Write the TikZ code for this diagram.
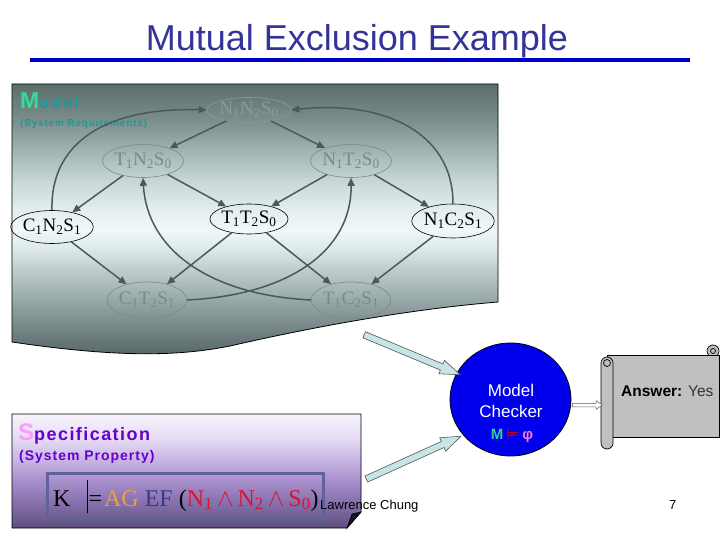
\documentclass[tikz,border=0pt]{standalone}
\usepackage{fontspec}
\setmainfont{Liberation Serif}
\setsansfont{Liberation Sans}
\newfontfamily\arial{Liberation Sans}
\newfontfamily\dejavu{DejaVu Sans}
\usetikzlibrary{shapes.geometric,shapes.arrows,arrows.meta,calc}
\definecolor{titleblue}{HTML}{333399}
\definecolor{lineblue}{HTML}{0000CC}
\definecolor{edgecol}{HTML}{4A5A5A}
\definecolor{fadecol}{HTML}{7A8A8A}
\definecolor{fadecolb}{HTML}{8A9A9A}
\definecolor{mgreen}{HTML}{33DD99}
\definecolor{mteal}{HTML}{1A9A9A}
\definecolor{spurple}{HTML}{6600CC}
\definecolor{spink}{HTML}{FF99FF}
\definecolor{gA}{HTML}{5C6E6C}
\definecolor{gB}{HTML}{7A8E8C}
\definecolor{gC}{HTML}{A0B2B2}
\definecolor{gD}{HTML}{C6D6D6}
\definecolor{gE}{HTML}{E4EEEE}
\definecolor{gF}{HTML}{F0F8F8}
\definecolor{gG}{HTML}{DCE8E8}
\definecolor{gH}{HTML}{BECCCC}
\definecolor{gI}{HTML}{98A8A8}
\definecolor{gJ}{HTML}{748484}
\definecolor{gK}{HTML}{546464}
\pgfdeclareverticalshading{panshade}{100bp}{color(0bp)=(gK); color(25bp)=(gK);
  color(30.1bp)=(gJ); color(35.6bp)=(gI); color(41.1bp)=(gH); color(44.7bp)=(gG);
  color(48.4bp)=(gF); color(52bp)=(gE); color(57.5bp)=(gD); color(63bp)=(gC);
  color(68.4bp)=(gB); color(75bp)=(gA); color(100bp)=(gA)}
\definecolor{sA}{HTML}{F8F4FC}
\definecolor{sB}{HTML}{E4DAF4}
\definecolor{sC}{HTML}{C8B4E4}
\definecolor{sD}{HTML}{A890CC}
\definecolor{sE}{HTML}{8A74B0}
\definecolor{sF}{HTML}{6A5A8C}
\definecolor{sG}{HTML}{5C4C7C}
\pgfdeclareverticalshading{specshade}{100bp}{color(0bp)=(sG); color(25bp)=(sG);
  color(28.5bp)=(sF); color(37.3bp)=(sE); color(46.1bp)=(sD); color(54.8bp)=(sC);
  color(63.6bp)=(sB); color(75bp)=(sA); color(100bp)=(sA)}
\definecolor{fboxcol}{HTML}{62629A}
\definecolor{agcol}{HTML}{E8A040}
\definecolor{efcol}{HTML}{3A3A8A}
\definecolor{ncol}{HTML}{DD1133}
\definecolor{checkblue}{HTML}{0000EE}
\definecolor{arrfill}{HTML}{C8E4E4}
\definecolor{scrollgray}{HTML}{C0C0C0}
\definecolor{phicol}{HTML}{FF77DD}
\definecolor{mcgreen}{HTML}{2AD2A0}
\newcommand\ssb[1]{\textsubscript{#1}}
\tikzset{
  state/.style={ellipse, draw=black, line width=0.6pt, inner sep=0pt,
    minimum width=78pt, minimum height=33pt,
    font=\fontsize{19}{19}\selectfont, text=black},
  faded/.style={draw=fadecol, text=fadecol},
  fadedb/.style={draw=fadecolb, text=fadecolb},
  edge/.style={draw=edgecol, line width=1.5pt, -{Triangle[length=8pt,width=7pt]}},
  blockarr/.style={single arrow, draw=edgecol, fill=arrfill, line width=0.6pt,
    inner xsep=0pt, inner ysep=3pt, minimum width=0pt,
    single arrow head extend=4pt, single arrow tip angle=40, sloped},
  smallarr/.style={single arrow, draw=black!65, fill=white, line width=0.5pt,
    inner xsep=0pt, inner ysep=1.5pt, minimum width=0pt,
    single arrow head extend=2.5pt, single arrow tip angle=70, sloped},
}
\begin{document}
\begin{tikzpicture}[x=1pt,y=-1pt]
\useasboundingbox (0,0) rectangle (720,540);

% title
\node[anchor=base, inner sep=0, text=titleblue, font=\arial\fontsize{36}{36}\selectfont] (title) at (357,51) {Mutual Exclusion Example};
\draw[lineblue, line width=4pt] (30,60) -- (690,60);

% model panel
\shadedraw[shading=panshade, line width=0.8pt]
  (12,84) -- (498,84) -- (498,302)
  .. controls (400,310) and (300,330) .. (230,346)
  .. controls (180,356) and (120,358) .. (12,342) -- cycle;

\node[anchor=base west, inner sep=0] (mlabel) at (20,109)
  {\arial\bfseries{\fontsize{23}{23}\selectfont\color{mgreen}M}{\fontsize{16}{16}\selectfont\addfontfeature{LetterSpace=15}\color{mteal}odel}};
\node[anchor=base west, inner sep=0] (mreq) at (20,127)
  {\arial\bfseries\fontsize{10}{10}\selectfont\addfontfeature{LetterSpace=8}\color{mteal}(System Requirements)};

% states
\node[state, fadedb, minimum height=25pt, minimum width=77pt] (n1n2) at (249,110) {N\ssb1N\ssb2S\ssb0};
\node[state, faded, minimum width=70pt] (t1n2) at (143,161) {T\ssb1N\ssb2S\ssb0};
\node[state, faded] (n1t2) at (351,161) {N\ssb1T\ssb2S\ssb0};
\node[state] (c1n2) at (52,227) {C\ssb1N\ssb2S\ssb1};
\node[state, minimum height=30pt] (t1t2) at (249,219) {T\ssb1T\ssb2S\ssb0};
\node[state, minimum height=34pt] (n1c2) at (453,221) {N\ssb1C\ssb2S\ssb1};
\node[state, faded, minimum height=36pt] (c1t2) at (147,300) {C\ssb1T\ssb2S\ssb1};
\node[state, faded, minimum height=36pt] (t1c2) at (351,300) {T\ssb1C\ssb2S\ssb1};

% straight edges
\draw[edge] (n1n2) -- (t1n2);
\draw[edge] (n1n2) -- (n1t2);
\draw[edge] (t1n2) -- (c1n2);
\draw[edge] (t1n2) -- (t1t2);
\draw[edge] (n1t2) -- (t1t2);
\draw[edge] (n1t2) -- (n1c2);
\draw[edge] (c1n2) -- (c1t2);
\draw[edge] (t1t2) -- (c1t2);
\draw[edge] (t1t2) -- (t1c2);
\draw[edge] (n1c2) -- (t1c2);
% curved edges
\draw[edge] (c1n2.north) .. controls (50,140) and (110,107) .. (n1n2.west);
\draw[edge] (n1c2.north) .. controls (453,130) and (380,100) .. (n1n2.east);
\draw[edge] (c1t2.east) .. controls (290,295) and (352,250) .. (n1t2.south);
\draw[edge] (t1c2.west) .. controls (210,295) and (147,250) .. (t1n2.south);

% specification box
\shadedraw[shading=specshade, line width=0.8pt]
  (12,414) -- (361,414) -- (361,512) -- (347,528) -- (12,528) -- cycle;
\filldraw[fill=black!75!sG, line width=0.6pt] (347,528) -- (352,514) -- (361,512) -- cycle;
\node[anchor=base west, inner sep=0] (slabel) at (18,440)
  {\arial\bfseries{\fontsize{24}{24}\selectfont\color{spink}S}{\fontsize{18}{18}\selectfont\addfontfeature{LetterSpace=8}\color{spurple}pecification}};
\node[anchor=base west, inner sep=0] (sprop) at (19,460)
  {\arial\bfseries\fontsize{14}{14}\selectfont\addfontfeature{LetterSpace=7}\color{spurple}(System Property)};
\node[draw=fboxcol, line width=3pt, minimum width=276pt, minimum height=45pt, inner sep=0] (fbx) at (185,495.5) {};
\node[anchor=base west, inner sep=0] (formula) at (53,506)
  {\fontsize{24}{24}\selectfont K\hspace{16pt}\rule[-7pt]{1.6pt}{33pt}\kern0.5pt{=}\kern2pt{\color{agcol}AG}\kern6pt{\color{efcol}EF}\kern6pt({\color{ncol}N\ssb{1}\,$\wedge$\,N\ssb{2}\,$\wedge$\,S\ssb{0}})};

\node[anchor=base west, inner sep=0] (author) at (320,509) {\arial\fontsize{13}{13}\selectfont Lawrence Chung};
\node[anchor=base west, inner sep=0] (pageno) at (669,509) {\arial\fontsize{13}{13}\selectfont 7};

% model checker
\node[ellipse, fill=checkblue, draw=black, line width=0.8pt, minimum width=121pt, minimum height=113pt, inner sep=0] (mc) at (510.5,399.5) {};
\node[anchor=base, inner sep=0, text=white, font=\arial\fontsize{17}{17}\selectfont] (mct1) at (511,396) {Model};
\node[anchor=base, inner sep=0, text=white, font=\arial\fontsize{17}{17}\selectfont] (mct2) at (511,417) {Checker};
\node[anchor=base, inner sep=0] (mct3) at (512,439)
  {\arial\bfseries\fontsize{15}{15}\selectfont{\color{mcgreen}M}\kern3pt{\dejavu\mdseries\color{red!85!black}⊨}\kern3pt{\color{phicol}φ}};

% block arrows
\coordinate (a1s) at (360,333);
\coordinate (a1e) at (456,373);
\coordinate (a2s) at (362,481);
\coordinate (a2e) at (457,438);
\path (a1s) -- node[blockarr, minimum height=104pt] (ba1) {} (a1e);
\path (a2s) -- node[blockarr, minimum height=104pt] (ba2) {} (a2e);

% answer scroll
\filldraw[fill=scrollgray, line width=0.7pt] (713,351) circle[radius=6];
\filldraw[fill=scrollgray, line width=0.7pt] (607,355) -- (719,355) -- (719,437) -- (607,437) -- cycle;
\draw[line width=0.7pt] (713,351) circle[radius=2.5];
\filldraw[fill=scrollgray, line width=0.7pt, rounded corners=6pt] (601,357) rectangle (613,449);
\draw[line width=0.7pt] (607,363) circle[radius=3.5];
\node[anchor=base west, inner sep=0] (ans) at (621,396)
  {\arial\fontsize{15.5}{15.5}\selectfont\textbf{Answer:} {\color{black!80}Yes}};

\coordinate (a3s) at (571,405);
\coordinate (a3e) at (601,405);
\path (a3s) -- node[smallarr, minimum height=30pt] (ba3) {} (a3e);
\end{tikzpicture}
\end{document}
